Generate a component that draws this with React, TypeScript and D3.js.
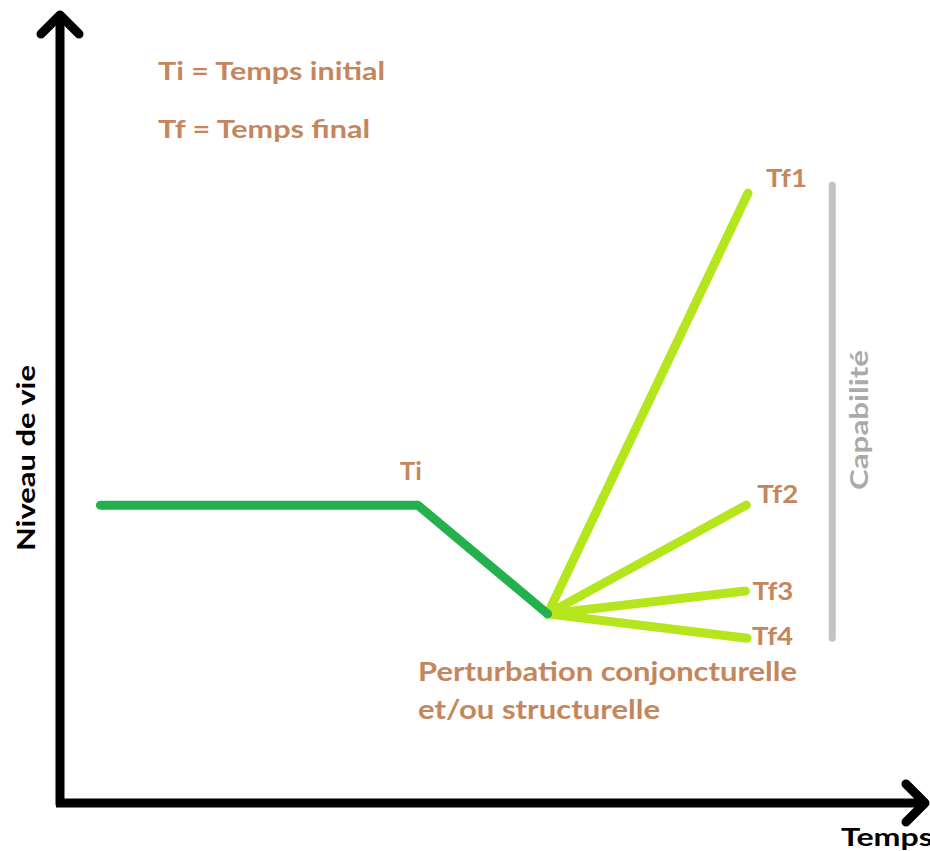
import * as d3 from 'd3';

// baseline path (dark green): before shock, Ti, shock bottom
const baseTimes = [4.7, 41.6, 56.7];
const baseLevels = [37.8, 37.8, 24.0];

// scenarios after the shock
const scenarioNames = ['Tf1', 'Tf2', 'Tf3', 'Tf4'];
const scenarioEndTimes = [80.0, 79.8, 79.7, 79.9];
const scenarioEndLevels = [77.4, 37.8, 26.9, 20.9];

// capability bar span
const capTime = 89.8;
const capLevels = [78.4, 20.9];

const W = 930;
const H = 851;
const FONT = 'Lato, "Open Sans", sans-serif';
const BROWN = '#c4865c';

export default function App() {
    const x = d3.scaleLinear().domain([0, 100]).range([60, 920]);
    const y = d3.scaleLinear().domain([0, 100]).range([803, 15]);

    const line = d3.line<[number, number]>()
        .x(d => x(d[0]))
        .y(d => y(d[1]));

    const basePts: [number, number][] = baseTimes.map((t, i) => [t, baseLevels[i]]);
    const origin = basePts[basePts.length - 1];

    return (
        <svg width={W} height={H} style={{ position: 'absolute', left: 0, top: 0, background: '#fff' }}
            fontFamily={FONT} fontWeight="bold">
            {/* axes */}
            <line x1={x(0)} y1={y(-0.3)} x2={x(0)} y2={y(100) + 2} stroke="#000" strokeWidth={9} />
            <polyline points={`${x(0) - 19},${y(100) + 19} ${x(0)},${y(100)} ${x(0) + 19},${y(100) + 19}`}
                fill="none" stroke="#000" strokeWidth={9} strokeLinecap="round" strokeLinejoin="round" />
            <line x1={x(0) - 4} y1={y(0)} x2={x(100) + 3} y2={y(0)} stroke="#000" strokeWidth={9} />
            <polyline points={`${x(100) - 14},${y(0) - 19} ${x(100) + 5},${y(0)} ${x(100) - 14},${y(0) + 19}`}
                fill="none" stroke="#000" strokeWidth={9} strokeLinecap="round" strokeLinejoin="round" />

            {/* scenario lines */}
            {scenarioNames.map((n, i) => (
                <path key={n} d={line([origin, [scenarioEndTimes[i], scenarioEndLevels[i]]])!}
                    stroke="#b5e61d" strokeWidth={9} strokeLinecap="round" fill="none" />
            ))}

            {/* baseline */}
            <path d={line(basePts)!} stroke="#22b14c" strokeWidth={9} strokeLinecap="round"
                strokeLinejoin="round" fill="none" />

            {/* capability bar */}
            <line x1={x(capTime)} x2={x(capTime)} y1={y(capLevels[0])} y2={y(capLevels[1])}
                stroke="#c3c3c3" strokeWidth={7} strokeLinecap="round" />

            {/* legend text */}
            <text x={158} y={80} fontSize={25} fill={BROWN} textLength={227} lengthAdjust="spacingAndGlyphs">Ti = Temps initial</text>
            <text x={158} y={138} fontSize={25} fill={BROWN} textLength={212} lengthAdjust="spacingAndGlyphs">Tf = Temps final</text>

            <text x={x(baseTimes[1]) - 18} y={y(baseLevels[1]) - 25} fontSize={25} fill={BROWN}
                textLength={22} lengthAdjust="spacingAndGlyphs">Ti</text>

            {scenarioNames.map((n, i) => {
                const dx = [18, 11, 7, 5][i];
                const dy = [-6, -2, 9, 7][i];
                return (
                    <text key={n} x={x(scenarioEndTimes[i]) + dx} y={y(scenarioEndLevels[i]) + dy}
                        fontSize={25} fill={BROWN} textLength={41} lengthAdjust="spacingAndGlyphs">{n}</text>
                );
            })}

            <text x={418} y={681} fontSize={27} fill={BROWN} textLength={379} lengthAdjust="spacingAndGlyphs">Perturbation conjoncturelle</text>
            <text x={418} y={719} fontSize={27} fill={BROWN} textLength={242} lengthAdjust="spacingAndGlyphs">et/ou structurelle</text>

            {/* axis titles */}
            <text transform={`translate(35,458) rotate(-90)`} textAnchor="middle" fontSize={25} fill="#000"
                textLength={186} lengthAdjust="spacingAndGlyphs">Niveau de vie</text>
            <text transform={`translate(868,420) rotate(-90)`} textAnchor="middle" fontSize={25} fill="#aaaaaa"
                textLength={140} lengthAdjust="spacingAndGlyphs">Capabilité</text>
            <text x={841} y={846} fontSize={25} fill="#000" textLength={92} lengthAdjust="spacingAndGlyphs">Temps</text>
        </svg>
    );
}
